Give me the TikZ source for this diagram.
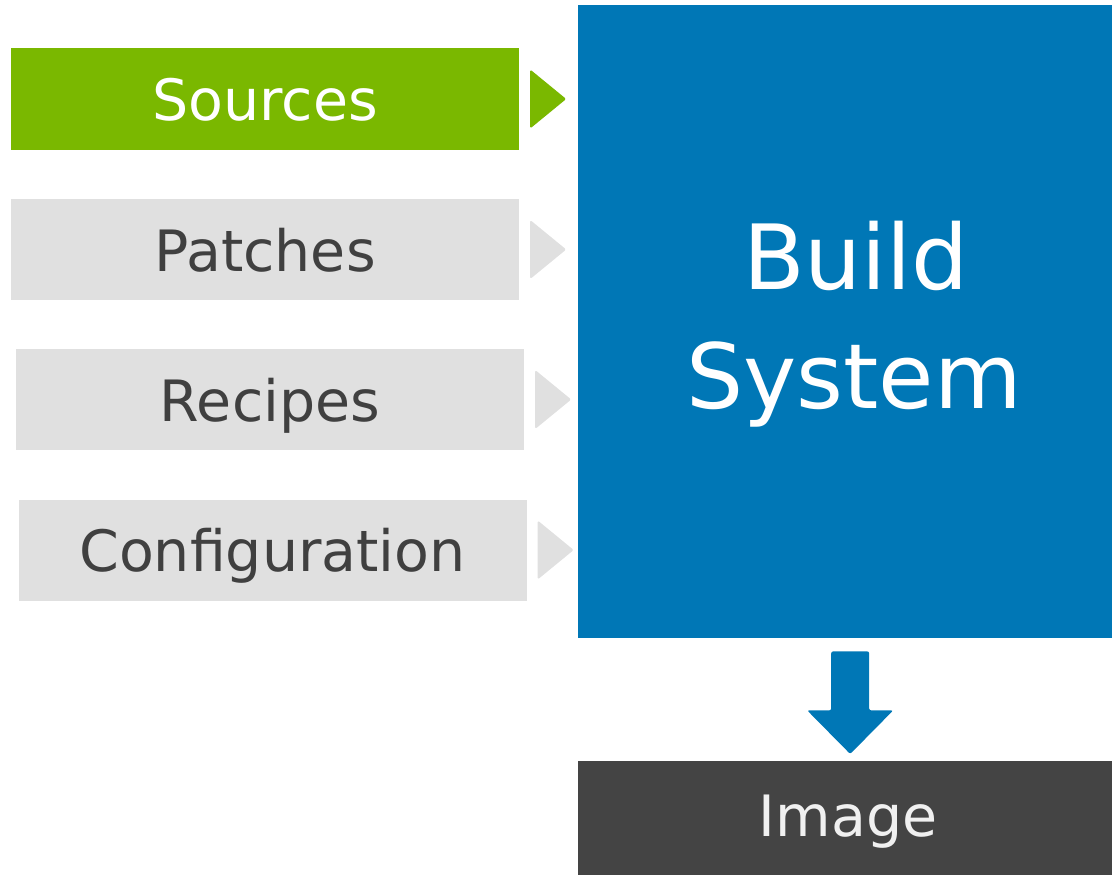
\documentclass[tikz,border=0pt]{standalone}
\usepackage{fontspec}
\setmainfont{DejaVu Sans}
\usetikzlibrary{calc}
\definecolor{srcgreen}{HTML}{7AB800}
\definecolor{inputgrey}{HTML}{E0E0E0}
\definecolor{labelgrey}{HTML}{404040}
\definecolor{buildblue}{HTML}{0077B6}
\definecolor{imagegrey}{HTML}{444444}
\tikzset{
  inbox/.style={rectangle, inner sep=0pt, minimum width=508pt, minimum height=101pt,
    fill=inputgrey, text=labelgrey, font=\fontsize{57}{57}\selectfont,
    text height=43pt, text depth=0pt},
  srcbox/.style={inbox, fill=srcgreen, text=white},
  pointer/.style={fill=#1, rounded corners=1.5pt},
  bigbox/.style={rectangle, inner sep=0pt, anchor=north west},
  bigtext/.style={inner sep=0pt, anchor=base, text=white, font=\fontsize{90}{90}\selectfont}
}
\begin{document}
\begin{tikzpicture}[x=1pt, y=-1pt]
  \useasboundingbox (0,0) rectangle (1112,875);

  % build system block and resulting image
  \node[bigbox, fill=buildblue, minimum width=534pt, minimum height=633pt] (build) at (578,5) {};
  \node[bigtext] (buildA) at (856,289) {Build};
  \node[bigtext] (buildB) at (854,408) {System};
  \node[bigbox, fill=imagegrey, minimum width=534pt, minimum height=114pt] (image) at (578,761) {};
  \node[inner sep=0pt, anchor=base, text=white!94!black, font=\fontsize{57}{57}\selectfont]
    (imagetext) at (848,836) {Image};

  % inputs
  \node[srcbox] (src) at (265,99) {Sources};
  \node[inbox]  (pat) at (265,249.5) {Patches};
  \node[inbox]  (rec) at (270,399.5) {Recipes};
  \node[inbox]  (cfg) at (272.5,550) {Configuration};

  % pointers from each input towards the build system
  \foreach \n/\c in {src/srcgreen, pat/inputgrey, rec/inputgrey, cfg/inputgrey}{
    \fill[pointer=\c] ($(\n.east)+(11,-29.5)$) -- ($(\n.east)+(47,0)$) -- ($(\n.east)+(11,29.5)$) -- cycle;
  }

  % down arrow from build system to image
  \fill[buildblue, rounded corners=2pt]
    ($(build.south)+(-14,13)$) -- ($(build.south)+(24,13)$) -- ($(build.south)+(24,72)$)
    -- ($(build.south)+(48,72)$) -- ($(image.north)+(5,-7)$) -- ($(build.south)+(-38,72)$)
    -- ($(build.south)+(-14,72)$) -- cycle;
\end{tikzpicture}
\end{document}
